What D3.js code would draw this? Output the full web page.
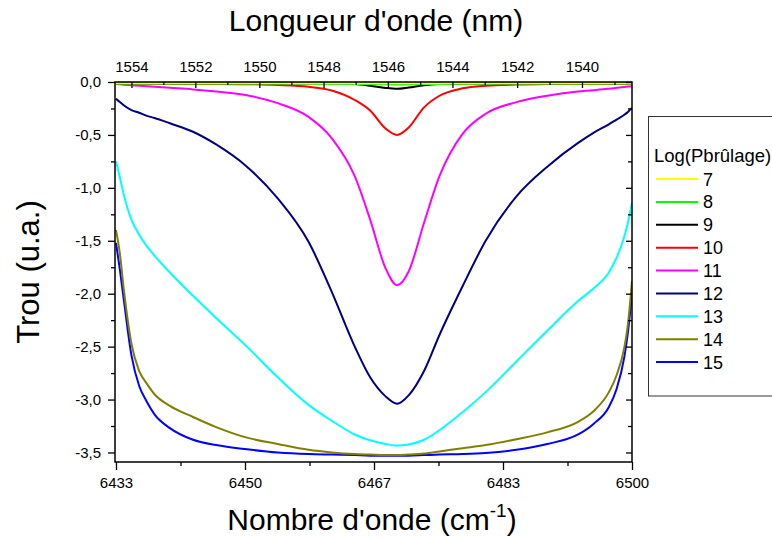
<!DOCTYPE html>
<html>
<head>
<meta charset="utf-8">
<script src="https://cdn.jsdelivr.net/npm/d3@7"></script>
<style>
  html, body { margin: 0; padding: 0; background: #fff; }
  svg { display: block; font-family: Arial, "Liberation Sans", sans-serif; }
</style>
</head>
<body>
<svg id="chart" width="772" height="539"></svg>
<script>
// ---------- DATA ----------
const wavenumbers = [6433, 6433.5, 6434, 6435, 6436, 6437, 6438, 6440, 6443, 6446, 6450, 6454, 6458, 6461, 6464, 6466, 6468, 6469.5, 6471, 6473, 6475, 6478, 6481, 6485, 6489, 6493, 6495, 6497, 6498, 6499, 6499.5, 6500];

const series7  = [-0.012,-0.012,-0.012,-0.012,-0.012,-0.012,-0.012,-0.012,-0.012,-0.012,-0.012,-0.012,-0.012,-0.012,-0.012,-0.012,-0.012,-0.012,-0.012,-0.012,-0.012,-0.012,-0.012,-0.012,-0.012,-0.012,-0.012,-0.012,-0.012,-0.012,-0.012,-0.012];
const series8  = [-0.014,-0.014,-0.014,-0.014,-0.014,-0.014,-0.014,-0.014,-0.014,-0.014,-0.014,-0.014,-0.015,-0.016,-0.018,-0.02,-0.022,-0.023,-0.022,-0.02,-0.018,-0.016,-0.015,-0.014,-0.014,-0.014,-0.014,-0.014,-0.014,-0.014,-0.014,-0.014];
const series9  = [-0.014,-0.014,-0.014,-0.014,-0.014,-0.014,-0.014,-0.014,-0.014,-0.014,-0.014,-0.014,-0.014,-0.015,-0.02,-0.035,-0.056,-0.064,-0.052,-0.03,-0.02,-0.016,-0.015,-0.014,-0.014,-0.014,-0.014,-0.014,-0.014,-0.014,-0.014,-0.014];
const series10 = [-0.016,-0.016,-0.016,-0.016,-0.016,-0.016,-0.017,-0.017,-0.018,-0.019,-0.021,-0.028,-0.045,-0.08,-0.17,-0.27,-0.44,-0.50,-0.43,-0.24,-0.13,-0.06,-0.035,-0.024,-0.019,-0.017,-0.016,-0.016,-0.016,-0.016,-0.016,-0.016];
const series11 = [-0.02,-0.022,-0.025,-0.03,-0.035,-0.04,-0.045,-0.055,-0.07,-0.09,-0.125,-0.20,-0.33,-0.53,-0.89,-1.30,-1.76,-1.92,-1.79,-1.33,-0.89,-0.49,-0.30,-0.19,-0.13,-0.09,-0.078,-0.063,-0.055,-0.047,-0.043,-0.04];
const series12 = [-0.157,-0.19,-0.22,-0.265,-0.29,-0.32,-0.34,-0.39,-0.47,-0.59,-0.80,-1.10,-1.51,-1.98,-2.50,-2.79,-2.97,-3.04,-2.96,-2.73,-2.39,-1.93,-1.50,-1.08,-0.80,-0.575,-0.48,-0.40,-0.355,-0.31,-0.28,-0.245];
const series13 = [-0.75,-0.90,-1.06,-1.30,-1.44,-1.55,-1.64,-1.80,-2.02,-2.23,-2.50,-2.79,-3.05,-3.20,-3.33,-3.385,-3.42,-3.435,-3.425,-3.38,-3.29,-3.12,-2.93,-2.64,-2.35,-2.07,-1.95,-1.80,-1.66,-1.46,-1.32,-1.14];
const series14 = [-1.40,-1.62,-1.95,-2.47,-2.73,-2.85,-2.95,-3.06,-3.165,-3.26,-3.36,-3.42,-3.475,-3.50,-3.515,-3.52,-3.525,-3.525,-3.52,-3.51,-3.49,-3.46,-3.43,-3.375,-3.31,-3.21,-3.11,-2.93,-2.77,-2.51,-2.27,-1.88];
const series15 = [-1.52,-1.77,-2.05,-2.58,-2.87,-3.02,-3.14,-3.27,-3.38,-3.43,-3.47,-3.50,-3.515,-3.52,-3.525,-3.53,-3.53,-3.53,-3.53,-3.525,-3.52,-3.515,-3.505,-3.475,-3.42,-3.33,-3.23,-3.07,-2.90,-2.60,-2.35,-1.99];

const seriesNames  = ["7", "8", "9", "10", "11", "12", "13", "14", "15"];
const seriesColors = ["#ffff00", "#00ff00", "#000000", "#ff0000", "#ff00ff", "#000080", "#00ffff", "#808000", "#0000ff"];
const seriesValues = [series7, series8, series9, series10, series11, series12, series13, series14, series15];

const xTickValues = [6433, 6449.75, 6466.5, 6483.25, 6500];
const xTickLabels = ["6433", "6450", "6467", "6483", "6500"];
const xMinorTicks = [6441.375, 6458.125, 6474.875, 6491.625];
const yTickValues = [0, -0.5, -1, -1.5, -2, -2.5, -3, -3.5];
const yTickLabels = ["0,0", "-0,5", "-1,0", "-1,5", "-2,0", "-2,5", "-3,0", "-3,5"];
const yMinorTicks = [-0.25, -0.75, -1.25, -1.75, -2.25, -2.75, -3.25];
const topTickLabels = [1554, 1552, 1550, 1548, 1546, 1544, 1542, 1540];
const topMinorTicks = [1553, 1551, 1549, 1547, 1545, 1543, 1541, 1539];

// ---------- CHART ----------
const svg = d3.select("#chart");
const L = 115, R = 632, T = 82, B = 462;

const x = d3.scaleLinear().domain([6432.87, 6500]).range([L, R]);
const y = d3.scaleLinear().domain([-3.59, 0]).range([B, T]);

const line = d3.line()
  .x(d => x(d[0]))
  .y(d => y(d[1]))
  .curve(d3.curveMonotoneX);

svg.append("clipPath").attr("id", "clip")
  .append("rect").attr("x", L).attr("y", T - 2).attr("width", R - L).attr("height", B - T + 2);

const gLines = svg.append("g").attr("clip-path", "url(#clip)");
for (let i = seriesValues.length - 1; i >= 0; i--) {
  const pts = wavenumbers.map((w, j) => [w, seriesValues[i][j]]);
  gLines.append("path")
    .attr("d", line(pts))
    .attr("fill", "none")
    .attr("stroke", seriesColors[i])
    .attr("stroke-width", 2);
}

const fmt = (vals, labels) => v => labels[vals.indexOf(v)];

function styleAxis(g) {
  g.select(".domain").remove();
  g.selectAll("line").attr("stroke", "#000").attr("stroke-width", 1.3);
  g.selectAll("text").attr("fill", "#000").attr("font-size", 15)
    .attr("font-family", "Arial, 'Liberation Sans', sans-serif");
}

// bottom
svg.append("g").attr("transform", `translate(0,${B})`)
  .call(d3.axisBottom(x).tickValues(xTickValues).tickFormat(fmt(xTickValues, xTickLabels)).tickSize(8).tickPadding(7))
  .call(styleAxis);
svg.append("g").attr("transform", `translate(0,${B})`)
  .call(d3.axisBottom(x).tickValues(xMinorTicks).tickFormat("").tickSize(4))
  .call(styleAxis);

// left
svg.append("g").attr("transform", `translate(${L},0)`)
  .call(d3.axisLeft(y).tickValues(yTickValues).tickFormat(fmt(yTickValues, yTickLabels)).tickSize(7).tickPadding(7))
  .call(styleAxis);
svg.append("g").attr("transform", `translate(${L},0)`)
  .call(d3.axisLeft(y).tickValues(yMinorTicks).tickFormat("").tickSize(4))
  .call(styleAxis);

// right (inside ticks)
svg.append("g").attr("transform", `translate(${R},0)`)
  .call(d3.axisRight(y).tickValues(yTickValues).tickFormat("").tickSize(-6))
  .call(styleAxis);
svg.append("g").attr("transform", `translate(${R},0)`)
  .call(d3.axisRight(y).tickValues(yMinorTicks).tickFormat("").tickSize(-4))
  .call(styleAxis);

// top (wavelength, nm) – positioned via wavenumber = 1e7 / lambda
const topMajor = topTickLabels.map(l => 1e7 / l);
const topMinor = topMinorTicks.map(l => 1e7 / l);
svg.append("g").attr("transform", `translate(0,${T})`)
  .call(d3.axisTop(x).tickValues(topMajor).tickFormat(v => String(topTickLabels[topMajor.indexOf(v)])).tickSizeInner(-6).tickSizeOuter(0).tickPadding(10))
  .call(styleAxis);
svg.append("g").attr("transform", `translate(0,${T})`)
  .call(d3.axisTop(x).tickValues(topMinor).tickFormat("").tickSizeInner(-3).tickSizeOuter(0))
  .call(styleAxis);

// frame
svg.append("rect")
  .attr("x", L).attr("y", T).attr("width", R - L).attr("height", B - T)
  .attr("fill", "none").attr("stroke", "#000").attr("stroke-width", 1.5);

// titles
svg.append("text")
  .attr("x", 376).attr("y", 31)
  .attr("text-anchor", "middle").attr("font-size", 30).attr("fill", "#000")
  .text("Longueur d'onde (nm)");

const xt = svg.append("text")
  .attr("x", 372).attr("y", 530)
  .attr("text-anchor", "middle").attr("font-size", 30).attr("fill", "#000");
xt.append("tspan").text("Nombre d'onde (cm");
xt.append("tspan").attr("font-size", 19).attr("dy", -13).text("-1");
xt.append("tspan").attr("dy", 13).text(")");

svg.append("text")
  .attr("transform", `translate(39,${(T + B) / 2}) rotate(-90)`)
  .attr("text-anchor", "middle").attr("font-size", 31).attr("fill", "#000")
  .text("Trou (u.a.)");

// legend
const lg = svg.append("g");
lg.append("rect")
  .attr("x", 648.5).attr("y", 116.5).attr("width", 140).attr("height", 279.5)
  .attr("fill", "#fff").attr("stroke", "#333").attr("stroke-width", 1);
lg.append("text")
  .attr("x", 654).attr("y", 162)
  .attr("font-size", 18.5).attr("fill", "#000")
  .text("Log(Pbrûlage)");
const legendY = d3.scaleLinear().domain([0, 8]).range([179, 362]);
seriesNames.forEach((name, i) => {
  const yy = legendY(i);
  lg.append("line")
    .attr("x1", 656).attr("x2", 698).attr("y1", yy).attr("y2", yy)
    .attr("stroke", seriesColors[i]).attr("stroke-width", 2);
  lg.append("text")
    .attr("x", 703).attr("y", yy + 6.5)
    .attr("font-size", 18).attr("fill", "#000")
    .text(name);
});
</script>
</body>
</html>
